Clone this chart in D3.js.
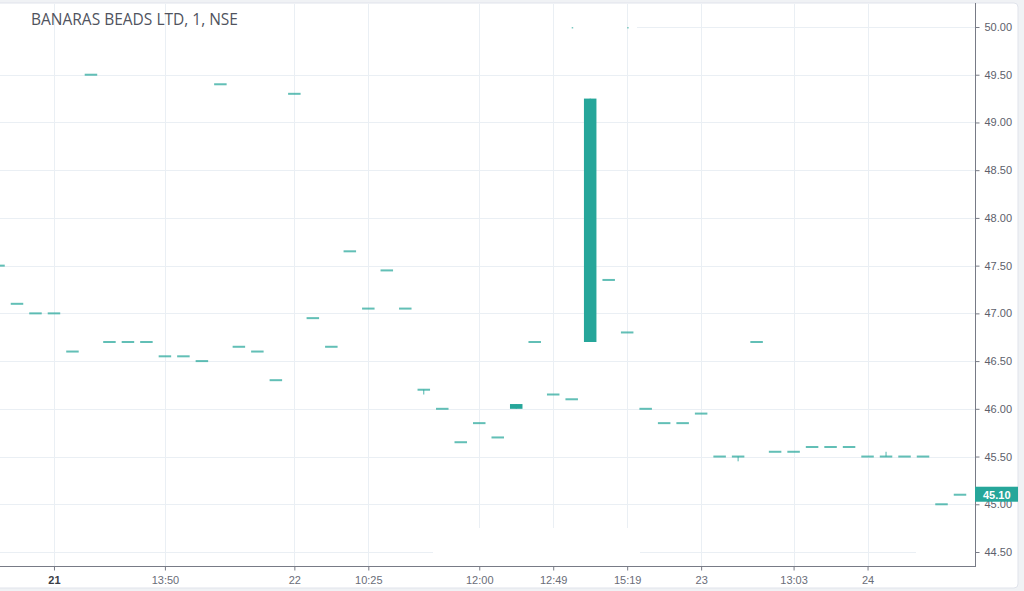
<!DOCTYPE html>
<html><head><meta charset="utf-8">
<script src="https://cdn.jsdelivr.net/npm/d3@7/dist/d3.min.js"></script>
<style>html,body{margin:0;padding:0;background:#f0f2f5;overflow:hidden}svg{display:block}</style>
</head><body>
<svg id="c" width="1024" height="591"></svg>
<script>
// ---- data ----
const title = "BANARAS BEADS LTD, 1, NSE";
const opens  = [47.50,47.10,47.00,47.00,46.60,49.50,46.70,46.70,46.70,46.55,46.55,46.50,49.40,46.65,46.60,46.30,49.30,46.95,46.65,47.65,47.05,47.45,47.05,46.20,46.00,45.65,45.85,45.70,46.00,46.70,46.15,46.10,46.70,47.35,46.80,46.00,45.85,45.85,45.95,45.50,45.50,46.70,45.55,45.55,45.60,45.60,45.60,45.50,45.50,45.50,45.50,45.00,45.10];
const closes = [47.50,47.10,47.00,47.00,46.60,49.50,46.70,46.70,46.70,46.55,46.55,46.50,49.40,46.65,46.60,46.30,49.30,46.95,46.65,47.65,47.05,47.45,47.05,46.20,46.00,45.65,45.85,45.70,46.05,46.70,46.15,46.10,49.25,47.35,46.80,46.00,45.85,45.85,45.95,45.50,45.50,46.70,45.55,45.55,45.60,45.60,45.60,45.50,45.50,45.50,45.50,45.00,45.10];
const highs  = [47.50,47.10,47.00,47.00,46.60,49.50,46.70,46.70,46.70,46.55,46.55,46.50,49.40,46.65,46.60,46.30,49.30,46.95,46.65,47.65,47.05,47.45,47.05,46.20,46.00,45.65,45.85,45.70,46.05,46.70,46.15,46.10,49.25,47.35,46.80,46.00,45.85,45.85,45.95,45.50,45.50,46.70,45.55,45.55,45.60,45.60,45.60,45.50,45.55,45.50,45.50,45.00,45.10];
const lows   = [47.50,47.10,47.00,47.00,46.60,49.50,46.70,46.70,46.70,46.55,46.55,46.50,49.40,46.65,46.60,46.30,49.30,46.95,46.65,47.65,47.05,47.45,47.05,46.15,46.00,45.65,45.85,45.70,46.00,46.70,46.15,46.10,46.70,47.35,46.80,46.00,45.85,45.85,45.95,45.50,45.45,46.70,45.55,45.55,45.60,45.60,45.60,45.50,45.50,45.50,45.50,45.00,45.10];
const xTickIndex  = [3, 9, 16, 20, 26, 30, 34, 38, 43, 47];
const xTickLabels = ["21","13:50","22","10:25","12:00","12:49","15:19","23","13:03","24"];
const xTickBold   = ["21"];
const yTicks = [44.5,45.0,45.5,46.0,46.5,47.0,47.5,48.0,48.5,49.0,49.5,50.0];
const lastPrice = 45.10;
const strayDots = [[31, 50.0], [34, 50.0]];

// ---- layout ----
const plotL = 0, plotR = 975, plotT = 3, plotB = 566;
const up = "#26a69a";
const svg = d3.select("#c");

const x = d3.scaleLinear().domain([0, 52]).range([-1.5, 960]);
const y = d3.scaleLinear().domain([44.5, 50]).range([552, 27]);

// card
svg.append("rect").attr("x", -10).attr("y", 3).attr("width", 1028).attr("height", 585)
  .attr("rx", 4).attr("fill", "#fff").attr("stroke", "#e0e3eb").attr("stroke-width", 1);

// grid
const grid = svg.append("g").attr("stroke", "#eaeff4").attr("stroke-width", 1).attr("shape-rendering", "crispEdges");
const shortV = [26, 30, 34];
xTickIndex.forEach(i => {
  const xx = Math.round(x(i)) + 0.5;
  const yEnd = shortV.includes(i) ? y(44.75) : plotB;
  grid.append("line").attr("x1", xx).attr("x2", xx).attr("y1", plotT + 1).attr("y2", yEnd);
});
yTicks.forEach(v => {
  const yy = Math.round(y(v)) + 0.5;
  let segs = [[plotL, plotR]];
  if (v === 50.0) segs = [[x(34.55), plotR]];
  if (v === 44.5) segs = [[plotL, x(23.5)], [x(34.7), x(49.6)]];
  segs.forEach(s => grid.append("line").attr("x1", s[0]).attr("x2", s[1]).attr("y1", yy).attr("y2", yy));
});

// candles
const idx = d3.range(opens.length);
const cw = 12.5;
const cg = svg.append("g");
idx.forEach(i => {
  const cx = x(i);
  if (highs[i] !== lows[i]) {
    cg.append("line").attr("x1", cx).attr("x2", cx)
      .attr("y1", y(highs[i])).attr("y2", y(lows[i]))
      .attr("stroke", up).attr("stroke-width", 1).attr("opacity", 0.8);
  }
  const top = y(Math.max(opens[i], closes[i]));
  const bot = y(Math.min(opens[i], closes[i]));
  const h = bot - top;
  if (h < 2) {
    cg.append("rect").attr("x", cx - cw / 2).attr("y", (top + bot) / 2 - 1)
      .attr("width", cw).attr("height", 2).attr("fill", up).attr("opacity", 0.72);
  } else {
    cg.append("rect").attr("x", cx - cw / 2).attr("y", top)
      .attr("width", cw).attr("height", h).attr("fill", up);
  }
});
strayDots.forEach(d => {
  cg.append("rect").attr("x", x(d[0])).attr("y", y(d[1])).attr("width", 1.5).attr("height", 1.5)
    .attr("fill", up).attr("opacity", 0.6);
});

// axes lines
const axCol = "#787b86";
svg.append("line").attr("x1", plotR + 0.5).attr("x2", plotR + 0.5).attr("y1", plotT).attr("y2", plotB + 0.5)
  .attr("stroke", axCol).attr("stroke-width", 1).attr("shape-rendering", "crispEdges");
svg.append("line").attr("x1", plotL).attr("x2", plotR + 0.5).attr("y1", plotB + 0.5).attr("y2", plotB + 0.5)
  .attr("stroke", axCol).attr("stroke-width", 1).attr("shape-rendering", "crispEdges");

// y axis
const yAxis = d3.axisRight(y).tickValues(yTicks).tickFormat(d3.format(".2f")).tickSize(4).tickPadding(5);
const yg = svg.append("g").attr("transform", `translate(${plotR + 0.5},0)`).call(yAxis);
yg.select(".domain").remove();
yg.selectAll(".tick line").attr("stroke", axCol);
yg.selectAll(".tick text").attr("fill", "#5d606b").style("font-family", "'Liberation Sans', Arial, sans-serif").style("font-size", "11px");

// x axis
const xAxis = d3.axisBottom(x).tickValues(xTickIndex).tickFormat((d, k) => xTickLabels[k]).tickSize(4).tickPadding(6);
const xg = svg.append("g").attr("transform", `translate(0,${plotB + 0.5})`).call(xAxis);
xg.select(".domain").remove();
xg.selectAll(".tick line").attr("stroke", axCol);
xg.selectAll(".tick text")
  .style("font-family", "'Liberation Sans', Arial, sans-serif").style("font-size", "11px")
  .style("font-weight", (d, k) => xTickBold.includes(xTickLabels[k]) ? "bold" : "normal")
  .attr("fill", (d, k) => xTickBold.includes(xTickLabels[k]) ? "#3a3d45" : "#6a6d78");

// last price label (covers the 45.00 tick label, as in the reference)
const ly = y(lastPrice);
svg.append("rect").attr("x", plotR).attr("y", ly - 8).attr("width", 43).attr("height", 15).attr("fill", up);
svg.append("text").attr("x", plotR + 8).attr("y", ly).attr("dy", "0.35em")
  .attr("fill", "#fff").style("font-family", "'Liberation Sans', Arial, sans-serif")
  .style("font-size", "11px").style("font-weight", "bold").text(d3.format(".2f")(lastPrice));

// title
svg.append("text").attr("x", 31).attr("y", 25).attr("fill", "#50535e")
  .style("font-family", "'Open Sans', sans-serif").style("font-size", "15.5px").text(title);
</script>
</body></html>
